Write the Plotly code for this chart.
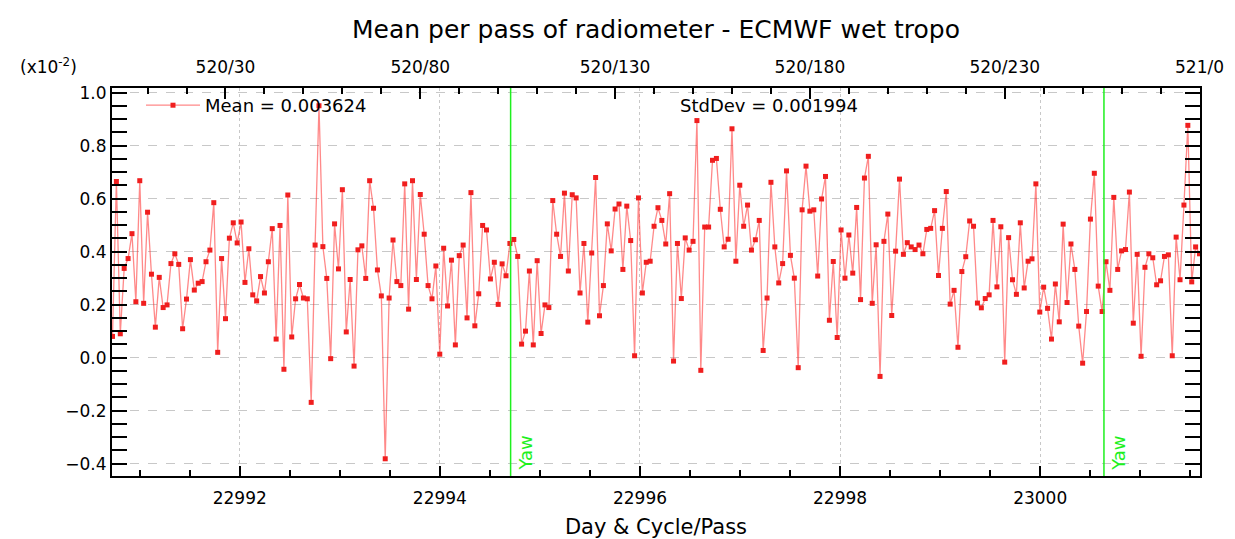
import numpy as np
import plotly.graph_objects as go

# ---------------- data ----------------
# mean per pass (units of 1e-2), passes 1..N of cycle 520
mean_values = [
    0.080, 0.665, 0.090, 0.337, 0.374, 0.468, 0.211, 0.668, 0.205, 0.549,
    0.315, 0.115, 0.303, 0.189, 0.199, 0.355, 0.392, 0.352, 0.109, 0.221,
    0.370, 0.255, 0.281, 0.287, 0.362, 0.406, 0.585, 0.020, 0.374, 0.147,
    0.451, 0.509, 0.433, 0.512, 0.284, 0.411, 0.237, 0.214, 0.306, 0.244,
    0.362, 0.487, 0.070, 0.499, -0.044, 0.614, 0.078, 0.222, 0.276, 0.225,
    0.222, -0.169, 0.425, 0.951, 0.419, 0.299, -0.004, 0.505, 0.335, 0.634,
    0.097, 0.295, -0.032, 0.407, 0.422, 0.299, 0.668, 0.564, 0.331, 0.233,
    -0.382, 0.225, 0.444, 0.287, 0.272, 0.656, 0.183, 0.668, 0.295, 0.616,
    0.466, 0.272, 0.222, 0.346, 0.013, 0.413, 0.195, 0.368, 0.048, 0.385,
    0.425, 0.150, 0.623, 0.120, 0.241, 0.499, 0.482, 0.297, 0.360, 0.201,
    0.354, 0.309, 0.431, 0.446, 0.382, 0.051, 0.100, 0.327, 0.048, 0.366,
    0.091, 0.199, 0.189, 0.593, 0.466, 0.382, 0.621, 0.327, 0.615, 0.603,
    0.244, 0.431, 0.134, 0.395, 0.680, 0.158, 0.272, 0.505, 0.403, 0.561,
    0.580, 0.333, 0.572, 0.442, 0.007, 0.603, 0.244, 0.360, 0.364, 0.496,
    0.566, 0.518, 0.429, 0.619, -0.013, 0.431, 0.223, 0.452, 0.406, 0.439,
    0.895, -0.048, 0.493, 0.493, 0.745, 0.752, 0.560, 0.418, 0.447, 0.864,
    0.364, 0.651, 0.496, 0.576, 0.406, 0.445, 0.518, 0.027, 0.225, 0.662,
    0.418, 0.282, 0.355, 0.705, 0.386, 0.300, -0.038, 0.558, 0.723, 0.553,
    0.558, 0.308, 0.599, 0.684, 0.141, 0.363, 0.076, 0.482, 0.300, 0.463,
    0.319, 0.567, 0.219, 0.678, 0.760, 0.205, 0.426, -0.071, 0.439, 0.542,
    0.159, 0.402, 0.674, 0.390, 0.434, 0.418, 0.408, 0.425, 0.392, 0.484,
    0.488, 0.555, 0.310, 0.488, 0.627, 0.202, 0.254, 0.039, 0.325, 0.381,
    0.516, 0.496, 0.206, 0.188, 0.223, 0.237, 0.518, 0.267, 0.494, -0.017,
    0.453, 0.294, 0.239, 0.509, 0.263, 0.364, 0.373, 0.656, 0.172, 0.266,
    0.186, 0.070, 0.278, 0.135, 0.504, 0.208, 0.429, 0.333, 0.119, -0.021,
    0.174, 0.523, 0.696, 0.270, 0.174, 0.362, 0.254, 0.605, 0.333, 0.403,
    0.408, 0.625, 0.130, 0.390, 0.005, 0.341, 0.392, 0.377, 0.275, 0.290,
    0.382, 0.388, 0.007, 0.455, 0.294, 0.576, 0.877, 0.286, 0.418, 0.392,
]
first_pass = 1
pass_day0 = 22990.689        # day of pass 0
pass_period = 0.03894        # days per pass

day_range = [22990.723, 23001.597]
y_range = [-0.447, 1.018]

bottom_tick_days = [22992, 22994, 22996, 22998, 23000]
top_tick_passes = [30, 80, 130, 180, 230, 280]
top_tick_labels = ["520/30", "520/80", "520/130", "520/180", "520/230", "521/0"]
yaw_days = [22994.707, 23000.637]

mean_label = "Mean = 0.003624"
std_label = "StdDev = 0.001994"
title_text = "Mean per pass of radiometer - ECMWF wet tropo"
x_title = "Day & Cycle/Pass"

# ---------------- figure ----------------
passes = np.arange(first_pass, first_pass + len(mean_values))
days = pass_day0 + passes * pass_period
pass_range = [(d - pass_day0) / pass_period for d in day_range]

FONT = "DejaVu Sans"
W, H = 1235, 539
L, R, T, B = 104, 43, 80, 60
pw, ph = W - L - R, H - T - B


def px_x(x):
    return (x - L) / pw


def px_y(y):
    return (H - B - y) / ph


fig = go.Figure()

fig.add_trace(go.Scatter(
    x=days, y=mean_values, mode="lines+markers", name=mean_label,
    line=dict(color="rgba(255,40,40,0.55)", width=1.3),
    marker=dict(symbol="square", size=5, color="rgb(240,30,30)"),
    xaxis="x", yaxis="y",
))
# invisible companion so the top (pass) axis is drawn
fig.add_trace(go.Scatter(
    x=passes, y=mean_values, mode="lines", line=dict(width=0),
    opacity=0, hoverinfo="skip", showlegend=False, xaxis="x2", yaxis="y",
))

for d in yaw_days:
    fig.add_shape(type="line", x0=d, x1=d, y0=0, y1=1, xref="x", yref="paper",
                  line=dict(color="#1ef01e", width=1.5))
    fig.add_annotation(x=d, y=y_range[0] + 0.012, xref="x", yref="y",
                       text="Yaw", textangle=-90, showarrow=False,
                       xanchor="left", yanchor="bottom", xshift=2,
                       font=dict(family=FONT, size=18, color="#1ef01e"))

fig.add_annotation(x=px_x(670), y=px_y(98), xref="paper", yref="paper",
                   text=std_label, showarrow=False,
                   xanchor="left", yanchor="middle",
                   font=dict(family=FONT, size=18, color="black"))
fig.add_annotation(x=px_x(10), y=px_y(57), xref="paper", yref="paper",
                   text="(x10<sup>-2</sup>)", showarrow=False,
                   xanchor="left", yanchor="middle",
                   font=dict(family=FONT, size=17, color="black"))

axis_common = dict(showline=True, linecolor="black", linewidth=2,
                   tickcolor="black", tickwidth=2, ticks="inside",
                   tickfont=dict(family=FONT, size=17, color="black"),
                   zeroline=False)

fig.update_layout(
    width=W, height=H,
    margin=dict(l=L, r=R, t=T, b=B),
    paper_bgcolor="white", plot_bgcolor="white",
    title=dict(text=title_text, x=(L + pw / 2) / W, xanchor="center",
               y=1 - 21 / H, yanchor="middle",
               font=dict(family=FONT, size=25, color="black")),
    showlegend=True,
    legend=dict(x=px_x(133), y=px_y(98), xanchor="left", yanchor="middle",
                bgcolor="rgba(0,0,0,0)", borderwidth=0, itemwidth=54,
                font=dict(family=FONT, size=18, color="black")),
    xaxis=dict(range=day_range, tickvals=bottom_tick_days,
               ticktext=[str(v) for v in bottom_tick_days],
               ticklen=10, showgrid=True, gridcolor="#c8c8c8", griddash="dot",
               gridwidth=1, mirror=False, ticklabelstandoff=6,
               minor=dict(dtick=0.5, tick0=22992, ticklen=6, tickwidth=2,
                          tickcolor="black", ticks="inside", showgrid=False),
               title=dict(text=x_title, standoff=12,
                          font=dict(family=FONT, size=21, color="black")),
               **axis_common),
    xaxis2=dict(range=pass_range, overlaying="x", side="top", anchor="y",
                tickvals=top_tick_passes, ticktext=top_tick_labels,
                ticklen=11, showgrid=False, ticklabelstandoff=6,
                minor=dict(dtick=10, tick0=0, ticklen=6, tickwidth=2,
                           tickcolor="black", ticks="inside", showgrid=False),
                **axis_common),
    yaxis=dict(range=y_range, dtick=0.2, tick0=0, tickformat=".1f",
               ticklen=15, showgrid=True, gridcolor="#c8c8c8", griddash="dash",
               gridwidth=1, mirror="allticks",
               minor=dict(dtick=0.05, tick0=0, ticklen=8, tickwidth=2,
                          tickcolor="black", ticks="inside", showgrid=False),
               **axis_common),
)

fig.write_html("out.html")
